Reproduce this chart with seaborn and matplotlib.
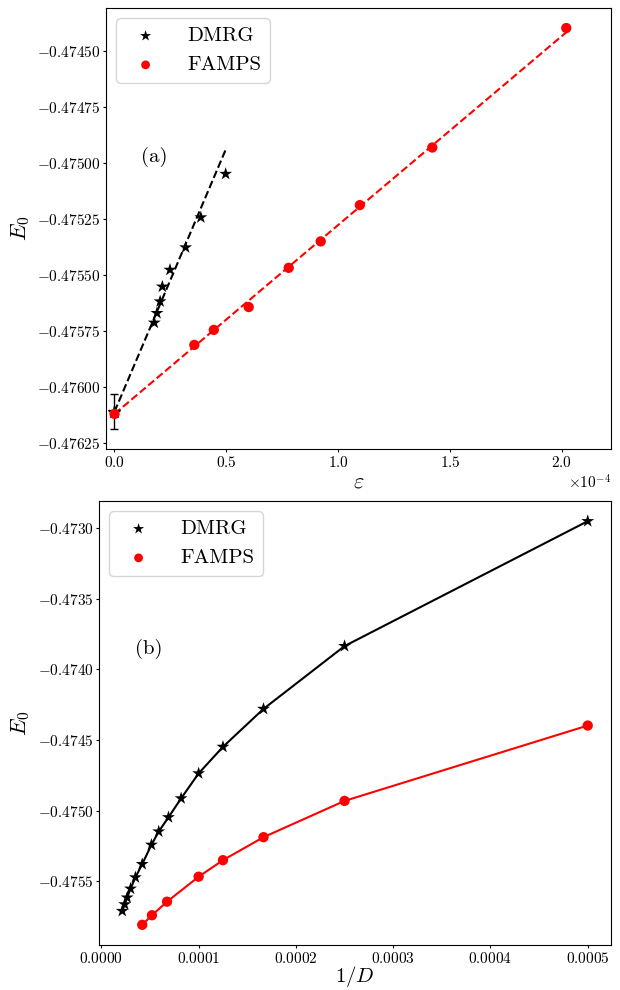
import matplotlib
matplotlib.use("Agg")
import matplotlib.pyplot as plt
from matplotlib.ticker import MultipleLocator
import numpy as np
import seaborn as sns

plt.rcParams['font.family'] = 'serif'
plt.rcParams['font.serif'] = ['cmr10']
plt.rcParams['mathtext.fontset'] = 'cm'
plt.rcParams['axes.formatter.use_mathtext'] = True

# panel (a): E0 vs truncation error eps
eps_dmrg = np.array([0.497, 0.386, 0.318, 0.248, 0.214, 0.204, 0.190, 0.178]) * 1e-4
e_dmrg_a = [-0.475049, -0.475243, -0.475377, -0.475477, -0.475552, -0.475618, -0.475670, -0.475713]
eps_famps = np.array([2.020, 1.421, 1.097, 0.922, 0.779, 0.600, 0.444, 0.357]) * 1e-4
e_famps_a = [-0.474398, -0.474931, -0.475188, -0.475350, -0.475468, -0.475643, -0.475745, -0.475812]

# extrapolated values at eps = 0
e0_dmrg = -0.47611
e0_dmrg_err = 0.000077
e0_famps = -0.47612

# linear fit lines (end points)
fit_dmrg_x = [0.0, 0.5e-4]
fit_dmrg_y = [-0.47611, -0.474934]
fit_famps_x = [0.0, 2.020e-4]
fit_famps_y = [-0.47612, -0.474417]

# panel (b): E0 vs 1/D
inv_d_dmrg = np.array([5.0, 2.5, 1.667, 1.25, 1.0, 0.82, 0.69, 0.59, 0.515,
                       0.42, 0.35, 0.30, 0.265, 0.24, 0.215]) * 1e-4
e_dmrg_b = [-0.47295, -0.473835, -0.47428, -0.474549, -0.474737, -0.474914,
            -0.475048, -0.475149, -0.475243, -0.475380, -0.475474, -0.475554,
            -0.475617, -0.475665, -0.475712]
inv_d_famps = np.array([5.0, 2.5, 1.667, 1.25, 1.0, 0.675, 0.52, 0.42]) * 1e-4
e_famps_b = [-0.474398, -0.474932, -0.475189, -0.475352, -0.475469,
             -0.475646, -0.475742, -0.475810]

fig = plt.figure(figsize=(6.2, 9.9), dpi=100)
ax1 = fig.add_axes([106/620, 1 - 449/990, 505/620, 441/990])
ax2 = fig.add_axes([99/620, 1 - 945/990, 512/620, 444/990])

star_s = 95
dot_s = 55

# (a)
sns.lineplot(x=fit_dmrg_x, y=fit_dmrg_y, color='k', linestyle='--', lw=1.5,
             sort=False, estimator=None, ax=ax1, legend=False)
sns.lineplot(x=fit_famps_x, y=fit_famps_y, color='r', linestyle='--', lw=1.5,
             sort=False, estimator=None, ax=ax1, legend=False)
sns.scatterplot(x=eps_dmrg, y=e_dmrg_a, marker='*', s=star_s, color='k',
                edgecolor='none', label='DMRG', ax=ax1, zorder=3)
sns.scatterplot(x=eps_famps, y=e_famps_a, marker='o', s=dot_s, color='r',
                edgecolor='none', label='FAMPS', ax=ax1, zorder=3)
ax1.errorbar([0.0], [e0_dmrg], yerr=[e0_dmrg_err], fmt='*', color='k', ms=9,
             capsize=3, lw=1, zorder=3)
sns.scatterplot(x=[0.0], y=[e0_famps], marker='o', s=dot_s, color='r',
                edgecolor='none', ax=ax1, zorder=4)
ax1.set_xlim(-0.038e-4, 2.22e-4)
ax1.xaxis.set_major_locator(MultipleLocator(0.5e-4))
ax1.ticklabel_format(axis='x', style='sci', scilimits=(0, 0))
ax1.set_xlabel(r'$\varepsilon$', fontsize=16, labelpad=2)
ax1.set_ylabel(r'$E_0$', fontsize=16)
ax1.text(0.095, 0.663, '(a)', transform=ax1.transAxes, fontsize=15,
         ha='center', va='center')
ax1.legend(loc='upper left', fontsize=15, markerscale=0.85, handletextpad=1.0)

# (b)
sns.lineplot(x=inv_d_dmrg, y=e_dmrg_b, color='k', lw=1.5, sort=False,
             estimator=None, ax=ax2, legend=False)
sns.lineplot(x=inv_d_famps, y=e_famps_b, color='r', lw=1.5, sort=False,
             estimator=None, ax=ax2, legend=False)
sns.scatterplot(x=inv_d_dmrg, y=e_dmrg_b, marker='*', s=star_s, color='k',
                edgecolor='none', label='DMRG', ax=ax2, zorder=3)
sns.scatterplot(x=inv_d_famps, y=e_famps_b, marker='o', s=dot_s, color='r',
                edgecolor='none', label='FAMPS', ax=ax2, zorder=3)
ax2.set_xlabel(r'$1/D$', fontsize=15, labelpad=-1)
ax2.set_ylabel(r'$E_0$', fontsize=16)
ax2.text(0.097, 0.667, '(b)', transform=ax2.transAxes, fontsize=15,
         ha='center', va='center')
ax2.legend(loc='upper left', fontsize=15, markerscale=0.85, handletextpad=1.0)

for ax in (ax1, ax2):
    ax.tick_params(labelsize=11, length=2.5, pad=1.5)
ax1.xaxis.get_offset_text().set_fontsize(11)

fig.savefig('out.png', dpi=100)
